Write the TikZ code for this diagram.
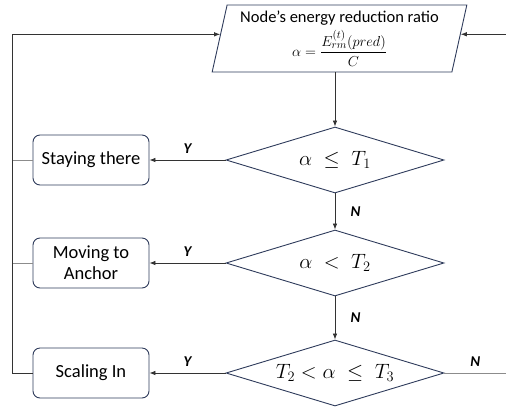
\documentclass[tikz,border=0pt]{standalone}
\usepackage{amsmath}
\usepackage{fontspec}
\setmainfont{Carlito}
\usetikzlibrary{shapes.geometric,arrows.meta}

\definecolor{boxline}{HTML}{2E3B5B}
\definecolor{wire}{HTML}{8C8C8C}

\tikzset{
  ratiobox/.style={trapezium, trapezium left angle=76.5, trapezium right angle=103.5,
    trapezium stretches=true, draw=boxline, line width=0.9pt,
    minimum width=255, minimum height=67, inner sep=0pt, align=center,
    font=\fontsize{16.5}{18}\selectfont},
  decision/.style={diamond, aspect=3.3, draw=boxline, line width=0.9pt, minimum width=218,
    minimum height=66, inner sep=0pt, font=\fontsize{20}{24}\selectfont},
  action/.style={rectangle, rounded corners=7pt, draw=boxline, line width=0.9pt,
    minimum width=116, minimum height=50, align=center,
    font=\fontsize{18.5}{21}\selectfont},
  flow/.style={-{Latex[length=6pt,width=4.5pt]}, line width=0.7pt, black!80},
  plain/.style={line width=0.7pt, wire},
  yn/.style={text=black, font=\fontsize{15}{17}\selectfont\bfseries\itshape}
}

\begin{document}
\begin{tikzpicture}[x=1pt,y=-1pt]
    \useasboundingbox (0,0) rectangle (506,408);

    % Energy ratio input
    \node[ratiobox] (ratio) at (339.5,38.5)
      {Node's energy reduction ratio\\[4pt]
       {\fontsize{15}{17}\selectfont$\alpha = \dfrac{E_{rm}^{(t)}(pred)}{C}$}};

    % Threshold checks
    \node[decision] (check1) at (335,160) {$\alpha\;\leq\;T_1$};
    \node[decision] (check2) at (335,263) {$\alpha\;<\;T_2$};
    \node[decision] (check3) at (335,373) {$T_2<\alpha\;\leq\;T_3$};

    % Actions
    \node[action] (stay)  at (91,160) {Staying there};
    \node[action] (move)  at (91,263) {Moving to\\Anchor};
    \node[action] (scale) at (91,373) {Scaling In};

    % Rails on both sides
    \coordinate (rail) at (12,0);
    \coordinate (edgeR) at (506,0);

    % Downward flow
    \draw[flow] (ratio.south -| check1.north) -- (check1.north);
    \draw[flow] (check1.south) -- (check2.north) node[midway, right=12pt, yn] {N};
    \draw[flow] (check2.south) -- (check3.north) node[midway, right=12pt, yn] {N};

    % Yes branches
    \draw[flow] (check1.west) -- (stay.east) node[midway, above=3pt, yn] {Y};
    \draw[flow] (check2.west) -- (move.east) node[midway, above=3pt, yn] {Y};
    \draw[flow] (check3.west) -- (scale.east) node[midway, above=3pt, yn] {Y};

    % Loop back to the ratio
    \draw[plain] (stay.west) -- (stay.west -| rail);
    \draw[plain] (move.west) -- (move.west -| rail);
    \draw[flow] (scale.west) -- (scale.west -| rail) -- (ratio.178 -| rail) -- (ratio.178);

    % No branch on the right
    \draw[plain] (check3.east) -- (check3.east -| edgeR) node[midway, above=3pt, yn] {N};
    \draw[flow] (ratio.2 -| edgeR) -- (ratio.2);
\end{tikzpicture}
\end{document}
